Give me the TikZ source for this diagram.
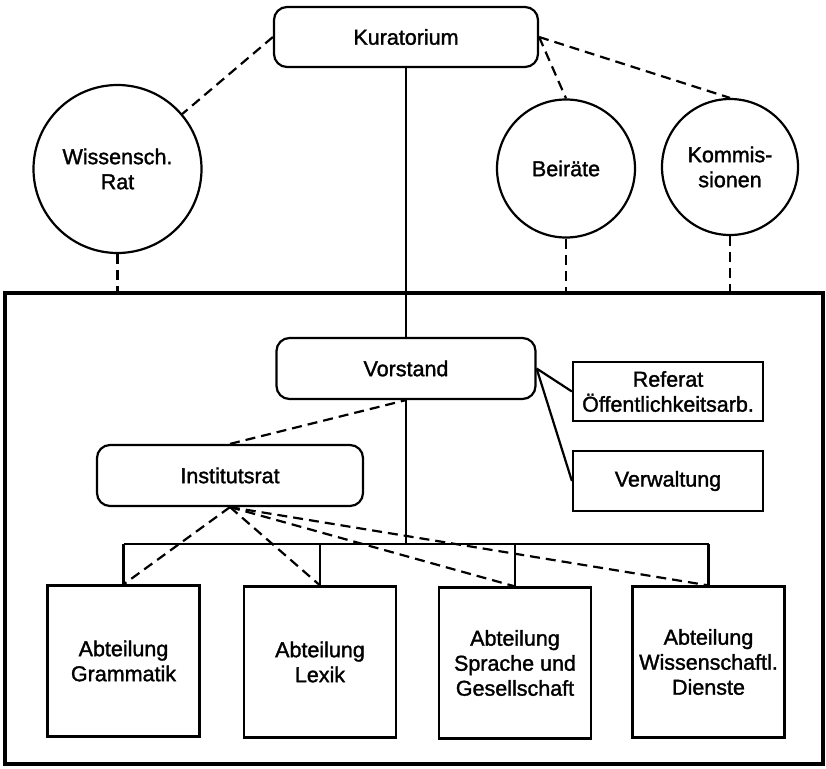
\documentclass[tikz,border=0pt]{standalone}
\usepackage{fontspec}
\setmainfont[FakeBold=1.5]{Liberation Sans}
\begin{document}
\begin{tikzpicture}[x=1pt,y=-1pt,
  every node/.style={font=\fontsize{21.5}{25}\selectfont, align=center, inner sep=0pt},
  solidline/.style={line width=2.2pt},
  dashline/.style={line width=2.2pt, dash pattern=on 10pt off 6pt},
  rbox/.style={draw, line width=2.2pt, rectangle, rounded corners=13pt, minimum height=61pt},
  sbox/.style={draw, line width=2.2pt, rectangle},
  circ/.style={draw, line width=2.2pt, circle},
  abox/.style={draw, line width=2.2pt, rectangle, minimum width=152pt, minimum height=151pt}]
\useasboundingbox (0,0) rectangle (826,768);
% frame
\node[draw, line width=4.5pt, minimum width=818pt, minimum height=471pt] (inst) at (414,528.5) {};
% top level
\node[rbox, minimum width=264pt, minimum height=60pt] (kur) at (406,37) {Kuratorium};
\node[circ, minimum size=168pt] (wr) at (117.5,169) {Wissensch.\\Rat};
\node[circ, minimum size=138pt] (bei) at (566,168.5) {Beiräte};
\node[circ, minimum size=136pt] (kom) at (730,167) {Kommis-\\sionen};
% inside
\node[rbox, minimum width=259pt] (vor) at (406,368.5) {Vorstand};
\node[sbox, minimum width=190pt, minimum height=59pt] (ref) at (668,391.5) {Referat\\Öffentlichkeitsarb.};
\node[sbox, minimum width=190pt, minimum height=60pt] (ver) at (668,481) {Verwaltung};
\node[rbox, minimum width=266pt] (ins) at (230,475.5) {Institutsrat};
\node[abox] (g) at (123.5,661) {Abteilung\\Grammatik};
\node[abox] (l) at (320,662) {Abteilung\\Lexik};
\node[abox] (s) at (515,663) {Abteilung\\Sprache und\\Gesellschaft};
\node[abox] (w) at (708.5,662) {Abteilung\\Wissenschaftl.\\Dienste};
\coordinate (bus) at (0,544);
% solid connectors
\draw[solidline] (kur.south) -- (vor.north);
\draw[solidline] (vor.south) -- (vor.south |- bus);
\draw[solidline] (g.north |- bus) -- (w.north |- bus);
\draw[solidline] (g.north |- bus) -- (g.north);
\draw[solidline] (l.north |- bus) -- (l.north);
\draw[solidline] (s.north |- bus) -- (s.north);
\draw[solidline] (w.north |- bus) -- (w.north);
\draw[solidline] (vor.east) -- (ref.west);
\draw[solidline] (vor.east) -- (ver.west);
% dashed connectors
\draw[dashline] (kur.west) -- (wr);
\draw[dashline] (kur.east) -- (bei.north);
\draw[dashline] (kur.east) -- (kom.north);
\draw[dashline] (wr.south) -- (wr.south |- inst.north);
\draw[dashline] (bei.south) -- (bei.south |- inst.north);
\draw[dashline] (kom.south) -- (kom.south |- inst.north);
\draw[dashline] (ins.north) -- (vor.south);
\draw[dashline] (ins.south) -- (g.north);
\draw[dashline] (ins.south) -- (l.north);
\draw[dashline] (ins.south) -- (s.north);
\draw[dashline] (ins.south) -- (w.north);
\end{tikzpicture}
\end{document}
